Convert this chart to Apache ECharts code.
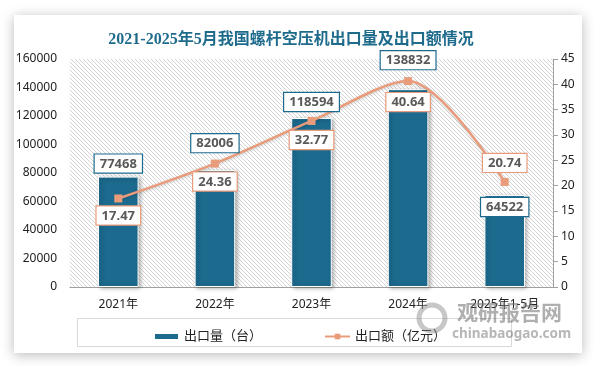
<!DOCTYPE html>
<html><head><meta charset="utf-8">
<script src="https://cdn.jsdelivr.net/npm/echarts@6/dist/echarts.min.js"></script>
<style>html,body{margin:0;padding:0;background:#fff}#c{width:594px;height:366px}</style>
</head><body><div id="c"></div>
<script>
var categories = ['2021年', '2022年', '2023年', '2024年', '2025年1-5月'];
var exportVolume = [77468, 82006, 118594, 138832, 64522];
var exportValue = [17.47, 24.36, 32.77, 40.64, 20.74];
var volumeLabelLift = [4, 18, 7, 20, -21];
var valueLabelPos = ['bottom', 'bottom', 'bottom', 'bottom', 'top'];
var valueLabelDist = [4, 5, 6, 8, 6];
var seriesNames = ['出口量（台）', '出口额（亿元）'];
var titleText = '2021-2025年5月我国螺杆空压机出口量及出口额情况';

var pc = document.createElement('canvas');
pc.width = 4; pc.height = 4;
var ctx = pc.getContext('2d');
ctx.fillStyle = '#ffffff'; ctx.fillRect(0, 0, 4, 4);
ctx.fillStyle = '#d4d4d4';
for (var i = 0; i < 4; i++) ctx.fillRect(i, i, 1, 1);

var chart = echarts.init(document.getElementById('c'), null, {renderer: 'canvas'});
var font = '"Noto Sans", "Noto Sans CJK SC", sans-serif';
var boxLabel = {fontSize: 13, fontWeight: 'bold', color: '#595959', backgroundColor: '#ffffff',
  borderWidth: 1.2, padding: [3, 5, 2, 5], fontFamily: font};
chart.setOption({
  backgroundColor: '#ffffff',
  animation: false,
  title: {
    text: titleText, left: 286, top: 27, textAlign: 'center',
    textStyle: {fontSize: 16, fontWeight: 'bold', color: '#1F6B8C', fontFamily: '"Liberation Serif", "Noto Sans CJK SC", serif'}
  },
  graphic: [
    {type: 'rect', z: -10, shape: {x: 14, y: 15, width: 568, height: 338},
     style: {fill: '#ffffff', shadowBlur: 12, shadowColor: 'rgba(0,0,0,0.28)', shadowOffsetX: 0, shadowOffsetY: 2}},
    {type: 'rect', z: -5, shape: {x: 77.5, y: 318.5, width: 434, height: 28},
     style: {fill: '#ffffff', stroke: '#d9d9d9', lineWidth: 1}},
    {type: 'text', z: 100, left: 457, top: 302,
     style: {text: '观研报告网', fontSize: 21, fontWeight: 'bold', fill: 'rgba(110,110,110,0.55)', fontFamily: '"Noto Sans CJK SC", sans-serif'}},
    {type: 'text', z: 100, left: 452, top: 327,
     style: {text: 'chinabaogao.com', fontSize: 13.5, fontWeight: 'bold', fill: 'rgba(110,110,110,0.5)', fontFamily: '"Noto Sans", sans-serif'}},
    {type: 'circle', z: 100, shape: {cx: 432, cy: 318, r: 13},
     style: {fill: 'none', stroke: 'rgba(130,130,130,0.45)', lineWidth: 5}}
  ],
  legend: {
    left: 148, top: 325, itemWidth: 25, itemHeight: 7, itemGap: 62,
    textStyle: {fontSize: 13, color: '#222', fontFamily: font},
    data: [{name: seriesNames[0], icon: 'rect'}, {name: seriesNames[1]}]
  },
  grid: {
    left: 70, right: 41, top: 59, bottom: 79, show: true, borderWidth: 0,
    backgroundColor: {image: pc, repeat: 'repeat'}
  },
  xAxis: {
    type: 'category', data: categories,
    axisLine: {lineStyle: {color: '#a0a0a0', width: 1}},
    axisTick: {show: false},
    axisLabel: {fontSize: 12, color: '#222', margin: 12, fontFamily: font}
  },
  yAxis: [
    {type: 'value', min: 0, max: 160000, interval: 20000,
     axisLine: {show: false}, axisTick: {show: false}, splitLine: {show: false},
     axisLabel: {fontSize: 12, color: '#222', margin: 13, fontFamily: font,
       formatter: function (v) { return String(v); }}},
    {type: 'value', min: 0, max: 45, interval: 5, position: 'right',
     axisLine: {show: true, lineStyle: {color: '#a0a0a0'}},
     axisTick: {show: true, length: 5, lineStyle: {color: '#a0a0a0'}},
     splitLine: {show: false},
     axisLabel: {fontSize: 12, color: '#222', margin: 8, fontFamily: font}}
  ],
  series: [
    {name: seriesNames[0], type: 'bar', data: exportVolume, barWidth: '42%', z: 2,
     itemStyle: {color: '#1C6A8E', borderColor: '#ffffff', borderWidth: 1,
       shadowBlur: 4, shadowColor: 'rgba(0,0,0,0.3)', shadowOffsetX: 2, shadowOffsetY: 1}},
    {name: seriesNames[1], type: 'line', yAxisIndex: 1, smooth: 0.3, z: 3,
     data: exportValue.map(function (v, i) {
       return {value: v, label: {position: valueLabelPos[i], distance: valueLabelDist[i]}};
     }),
     symbol: 'rect', symbolSize: 8,
     lineStyle: {color: '#E99C7C', width: 2.5, shadowBlur: 3, shadowColor: 'rgba(0,0,0,0.2)', shadowOffsetY: 1},
     itemStyle: {color: '#E99C7C'},
     label: Object.assign({show: true, borderColor: '#E99C7C'}, boxLabel)},
    {name: 'volumeLabels', type: 'scatter', z: 10, symbolSize: 0, silent: true,
     itemStyle: {opacity: 1},
     data: exportVolume.map(function (v, i) {
       return {value: v, label: {offset: [0, -volumeLabelLift[i]]}};
     }),
     label: Object.assign({show: true, position: 'top', distance: 0, borderColor: '#1C6A8E'}, boxLabel)}
  ]
});
</script></body></html>
